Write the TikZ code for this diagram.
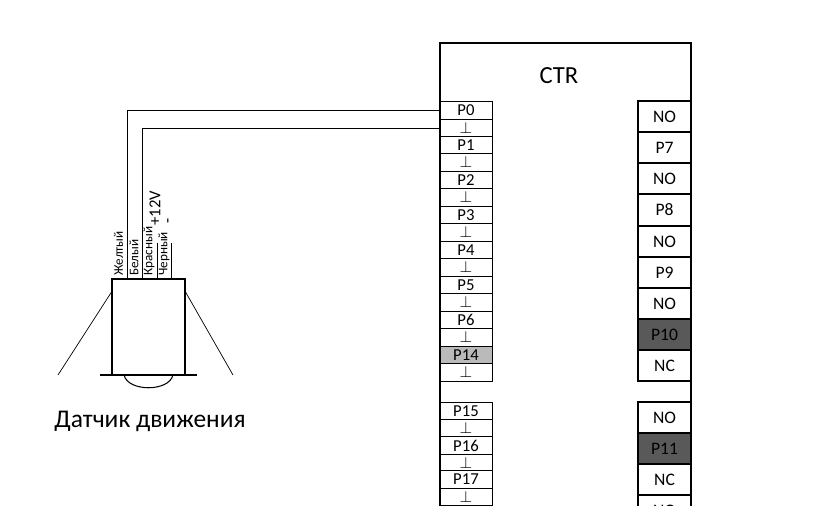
\documentclass[tikz,border=0pt]{standalone}
\usepackage{fontspec}
\setmainfont{Carlito}
\usetikzlibrary{positioning}
\tikzset{
  inport/.style={draw,line width=0.5pt,minimum width=1.04cm,minimum height=0.35cm,inner sep=0pt,font=\fontsize{9.5}{9.5}\selectfont},
  relay/.style={draw,line width=0.8pt,minimum width=1.06cm,minimum height=0.62cm,inner sep=0pt,font=\fontsize{10}{10}\selectfont},
  wirelbl/.style={rotate=90,anchor=west,inner sep=0pt,font=\fontsize{7.5}{7.5}\selectfont},
  wire/.style={line width=0.45pt}
}
\begin{document}
\begin{tikzpicture}[x=0.02cm,y=-0.02cm]
  \useasboundingbox (0,0) rectangle (818,506);
  \clip (0,0) rectangle (818,506);

  %% Controller body
  \draw[line width=0.8pt] (440,520) -- (440,43) -- (691,43) -- (691,520);
  \node[font=\fontsize{14}{14}\selectfont] (ctr) at (559,76) {CTR};

  %% Left ports, each with its ground below
  \foreach \n/\y/\shade in {0/110.5/white, 1/145/white, 2/180/white, 3/215/white, 4/250/white,
      5/285/white, 6/320/white, 14/355/black!27, 15/411/white, 16/445.5/white, 17/479.5/white}{
    \node[inport,fill=\shade] (p\n) at (466,\y) {P\n};
    \node[inport] (g\n) at (466,\y+17.5) {$\perp$};
  }

  %% Right column, upper block
  \foreach \lbl/\y/\shade in {NO/116.5/white, P7/147.5/white, NO/178.5/white, P8/210/white,
      NO/241.5/white, P9/272.5/white, NO/303.5/white, P10/334.5/black!65, NC/365.5/white}{
    \node[relay,fill=\shade] (r\lbl\y) at (664.5,\y) {\lbl};
  }
  %% Right column, lower block
  \foreach \lbl/\y/\shade in {NO/417.5/white, P11/448.5/black!65, NC/479.5/white, NO/510.5/white}{
    \node[relay,fill=\shade] (r\lbl\y) at (664.5,\y) {\lbl};
  }

  %% Motion sensor
  \node[draw,line width=0.8pt,minimum width=1.46cm,minimum height=1.92cm,inner sep=0pt] (sensor) at (148.5,327) {};
  \draw[line width=0.8pt] (100,375) -- (197,375);
  \draw[line width=0.6pt] (124,375) .. controls (128,392) and (169,392) .. (173,375);
  \draw[line width=0.4pt] (sensor.north west)+(0,14) -- (58,375);
  \draw[line width=0.4pt] (sensor.north east)+(0,14) -- (233,375);
  \node[font=\fontsize{14.5}{14.5}\selectfont] (title) at (150,421) {Датчик движения};

  %% Wires to the controller
  \coordinate (pinA) at (127,279);
  \coordinate (pinB) at (142,279);
  \coordinate (pinC) at (157,279);
  \coordinate (pinD) at (171,279);
  \draw[wire] (p0.west) -| (pinA);
  \draw[wire] (g0.west) -| (pinB);
  \draw[wire] (pinC) -- ++(0,-36);
  \draw[wire] (pinD) -- ++(0,-36);

  %% Wire labels
  \node[wirelbl] (yellow) at (118.5,276) {Желтый};
  \node[wirelbl] (white) at (134,276) {Белый};
  \node[wirelbl] (red) at (149,276) {Красный};
  \node[wirelbl] (black) at (164,276) {Черный};
  \node[wirelbl,font=\fontsize{9.5}{9.5}\selectfont] (plus) at (155,226) {+12V};
  \node[wirelbl,font=\fontsize{9.5}{9.5}\selectfont] (minus) at (170,224) {-};
\end{tikzpicture}
\end{document}
